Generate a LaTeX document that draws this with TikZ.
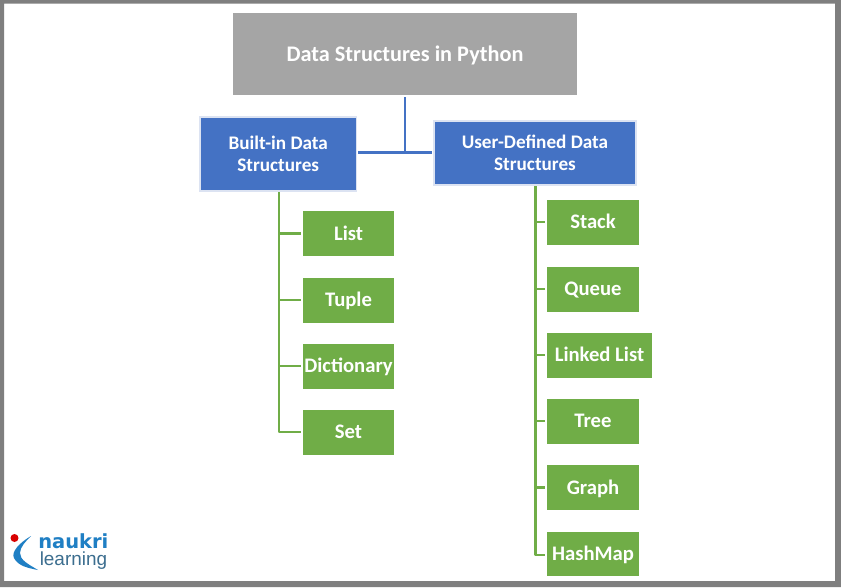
\documentclass[tikz,border=0pt]{standalone}
\usepackage{fontspec}
\setmainfont{Carlito}
\newfontfamily\logofont{Liberation Sans}
\newfontfamily\logoboldfont{DejaVu Sans}
\definecolor{frameg}{HTML}{7F7F7F}
\definecolor{topg}{HTML}{A5A5A5}
\definecolor{blu}{HTML}{4472C4}
\definecolor{bluedge}{HTML}{DCE3F2}
\definecolor{grn}{HTML}{70AD47}
\definecolor{logob}{HTML}{1F7FC4}
\definecolor{logot}{HTML}{3C6E8F}
\tikzset{
 x=0.75pt,y=-0.75pt,
 box/.style={anchor=center,align=center,inner sep=0pt,text=white},
 rootbox/.style={box,fill=topg,minimum width=0.75pt*344,minimum height=0.75pt*82,text height=10.8pt,text depth=0pt,font=\bfseries\fontsize{16.7pt}{20pt}\selectfont},
 bluebox/.style={box,fill=blu,draw=bluedge,line width=1.3pt,font=\bfseries\fontsize{14.4pt}{16.2pt}\selectfont},
 greenbox/.style={box,fill=grn,minimum height=0.75pt*45,text height=10pt,text depth=0pt,font=\bfseries\fontsize{15.5pt}{18pt}\selectfont},
 blueline/.style={draw=blu,line width=1.9pt},
 greenline/.style={draw=grn,line width=1.9pt,line join=round},
}
\begin{document}
\begin{tikzpicture}
\useasboundingbox (0,0) rectangle (841,587);
\fill[white] (0,0) rectangle (841,587);
\fill[frameg,even odd rule] (0,0) rectangle (841,587) (4,3.5) rectangle (835,581);
\node[rootbox] (root) at (405,54) {Data Structures in Python};
\node[bluebox,minimum width=0.75pt*156.5,minimum height=0.75pt*74] (bi) at (278.2,153.7) {Built-in Data\\Structures};
\node[bluebox,minimum width=0.75pt*202,minimum height=0.75pt*64] (ud) at (535,153) {User-Defined Data\\Structures};
\node[greenbox,minimum width=0.75pt*91] (list) at (348.5,233.5) {List};
\node[greenbox,minimum width=0.75pt*91] (tuple) at (348.5,300) {Tuple};
\node[greenbox,minimum width=0.75pt*91] (dict) at (348.5,366) {Dictionary};
\node[greenbox,minimum width=0.75pt*91] (set) at (348.5,432) {Set};
\node[greenbox,minimum width=0.75pt*92] (stack) at (593,222) {Stack};
\node[greenbox,minimum width=0.75pt*92] (queue) at (593,289) {Queue};
\node[greenbox,minimum width=0.75pt*105] (linked) at (599.5,355) {Linked List};
\node[greenbox,minimum width=0.75pt*92] (tree) at (593,421) {Tree};
\node[greenbox,minimum width=0.75pt*92] (graph) at (593,487.5) {Graph};
\node[greenbox,minimum width=0.75pt*92,minimum height=0.75pt*44] (hash) at (593,553.8) {HashMap};
% blue connectors
\coordinate (jn) at (405,152.7);
\draw[blueline] ([yshift=-1.5pt]root.south) -- (jn);
\draw[blueline] ([xshift=0.8pt]bi.east |- jn) -- ([xshift=-0.8pt]ud.west |- jn);
% green connectors
\coordinate (bt) at (279,192);
\coordinate (ut) at (535.7,186);
\draw[greenline] (bt) |- ([xshift=-1.5pt]set.west);
\foreach \n in {list,tuple,dict} \draw[greenline] (bt |- \n.west) -- ([xshift=-1.5pt]\n.west);
\draw[greenline] (ut) |- ([xshift=-1.5pt,yshift=-0.9pt]hash.west);
\foreach \n in {stack,queue,linked,tree,graph} \draw[greenline] (ut |- \n.west) -- ([xshift=-1.5pt]\n.west);
% logo
\fill[red!85!black] (14.5,538) circle (4);
\fill[logob] (31,536) .. controls (19,543) and (11,552) .. (14,558) .. controls (18,566) and (28,568) .. (38,570) .. controls (28,564) and (20,560) .. (20,553) .. controls (20,547) and (26,541) .. (31,536) -- cycle;
\node[anchor=base west,inner sep=0pt,text=logob,font=\logoboldfont\bfseries\fontsize{14.6pt}{16pt}\selectfont] (lg1) at (38,548.5) {naukri};
\node[anchor=base west,inner sep=0pt,text=logot,font=\logofont\fontsize{14.2pt}{16pt}\selectfont] (lg2) at (39.5,565.5) {learning};
\end{tikzpicture}
\end{document}
